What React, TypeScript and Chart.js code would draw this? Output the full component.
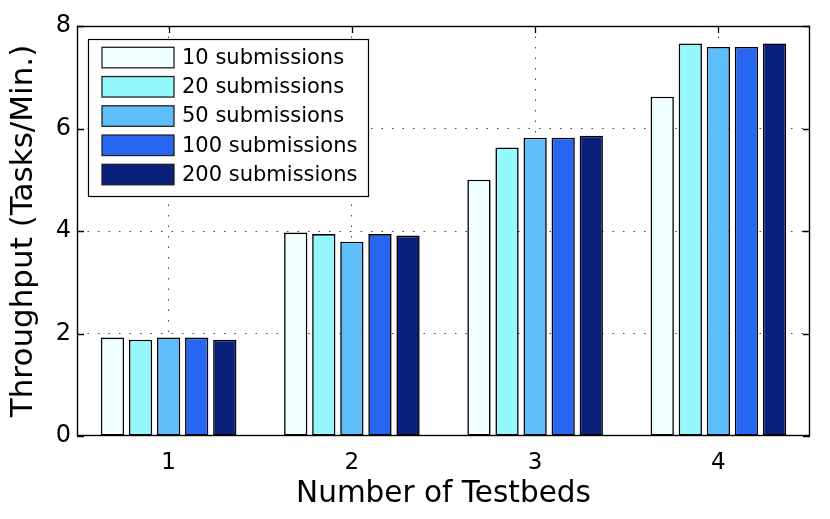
import { useEffect, useRef } from "react";
import { Chart, registerables } from "chart.js";

Chart.register(...registerables);

const categories = ["1", "2", "3", "4"];
const seriesLabels = ["10 submissions", "20 submissions", "50 submissions", "100 submissions", "200 submissions"];
const sub10 = [1.92, 3.97, 5.0, 6.62];
const sub20 = [1.88, 3.94, 5.63, 7.66];
const sub50 = [1.92, 3.79, 5.82, 7.59];
const sub100 = [1.92, 3.94, 5.82, 7.59];
const sub200 = [1.88, 3.91, 5.86, 7.66];
const seriesColors = ["#F0FFFF", "#94F8FC", "#5EBEFA", "#2666F0", "#08207A"];
const yTicks = [0, 2, 4, 6, 8];

const FONT = "'DejaVu Sans', sans-serif";

export default function App() {
  const ref = useRef<HTMLCanvasElement>(null);

  useEffect(() => {
    document.body.style.margin = "0";
    const canvas = ref.current;
    if (!canvas) return;

    const matlabPlugin = {
      id: "matlabBox",
      beforeDatasetsDraw(chart: any) {
        const { ctx, chartArea: a, scales } = chart;
        ctx.save();
        ctx.strokeStyle = "#000";
        ctx.lineWidth = 1.3;
        const tl = 7;
        ctx.beginPath();
        scales.y.ticks.forEach((t: any) => {
          const y = Math.round(scales.y.getPixelForValue(t.value)) + 0.5;
          ctx.moveTo(a.left, y);
          ctx.lineTo(a.left + tl, y);
          ctx.moveTo(a.right, y);
          ctx.lineTo(a.right - tl, y);
        });
        scales.x.ticks.forEach((_t: any, i: number) => {
          const x = Math.round(scales.x.getPixelForTick(i)) + 0.5;
          ctx.moveTo(x, a.top);
          ctx.lineTo(x, a.top + tl);
          ctx.moveTo(x, a.bottom);
          ctx.lineTo(x, a.bottom - tl);
        });
        ctx.stroke();
        ctx.restore();
      },
      afterDatasetsDraw(chart: any) {
        const { ctx, chartArea: a } = chart;
        ctx.save();
        ctx.strokeStyle = "#000";
        ctx.lineWidth = 1.4;
        ctx.strokeRect(a.left + 0.5, a.top + 0.5, a.right - a.left - 1, a.bottom - a.top - 1);

        // legend
        const lx = a.left + 11;
        const ly = a.top + 13;
        const lw = 280;
        const lh = 157;
        ctx.fillStyle = "#fff";
        ctx.fillRect(lx, ly, lw, lh);
        ctx.lineWidth = 1.2;
        ctx.strokeRect(lx + 0.5, ly + 0.5, lw, lh);
        ctx.font = `21px ${FONT}`;
        ctx.textBaseline = "middle";
        ctx.textAlign = "left";
        chart.data.datasets.forEach((ds: any, i: number) => {
          const sy = ly + 8.3 + i * 29.25;
          ctx.fillStyle = ds.backgroundColor;
          ctx.fillRect(lx + 14, sy, 72, 20.5);
          ctx.strokeStyle = "#222";
          ctx.lineWidth = 1.3;
          ctx.strokeRect(lx + 14, sy, 72, 20.5);
          ctx.fillStyle = "#000";
          ctx.fillText(ds.label, lx + 94, sy + 11);
        });
        ctx.restore();
      },
    };

    const values = [sub10, sub20, sub50, sub100, sub200];
    const gridColor = (c: any) => {
      const v = c.tick ? c.tick.value : null;
      return v === 0 || v === 8 ? "rgba(0,0,0,0)" : "#444";
    };

    const chart = new Chart(canvas, {
      type: "bar",
      data: {
        labels: categories,
        datasets: values.map((vals, i) => ({
          label: seriesLabels[i],
          data: vals,
          backgroundColor: seriesColors[i],
          borderColor: "#000",
          borderWidth: 1.6,
          borderSkipped: false,
          categoryPercentage: 0.766,
          barPercentage: 0.83,
        })),
      },
      options: {
        animation: false,
        responsive: false,
        layout: { padding: { left: 0, right: 20, top: 26, bottom: 0 } },
        plugins: {
          legend: { display: false },
          tooltip: { enabled: false },
        },
        scales: {
          x: {
            ticks: { color: "#000", font: { family: FONT, size: 23 }, padding: 13 },
            grid: { offset: false, color: "#444", lineWidth: 1, drawTicks: false },
            border: { display: false, dash: [1.5, 9] },
            title: {
              display: true,
              text: "Number of Testbeds",
              color: "#000",
              font: { family: FONT, size: 29.5 },
              padding: { top: 0, bottom: 7 },
            },
            afterFit(s: any) {
              s.height = 83;
            },
          },
          y: {
            min: 0,
            max: 8,
            afterBuildTicks(s: any) {
              s.ticks = yTicks.map((v) => ({ value: v }));
            },
            ticks: { color: "#000", font: { family: FONT, size: 24 }, padding: 6 },
            grid: { color: gridColor, lineWidth: 1, drawTicks: false },
            border: { display: false, dash: [1.5, 9] },
            title: {
              display: true,
              text: "Throughput (Tasks/Min.)",
              color: "#000",
              font: { family: FONT, size: 31 },
              padding: { top: 5, bottom: 0 },
            },
            afterFit(s: any) {
              s.width = 77;
            },
          },
        },
      },
      plugins: [matlabPlugin],
    } as any);

    return () => chart.destroy();
  }, []);

  return (
    <div style={{ width: 830, height: 519, position: "relative" }}>
      <canvas ref={ref} width={830} height={519} />
    </div>
  );
}
